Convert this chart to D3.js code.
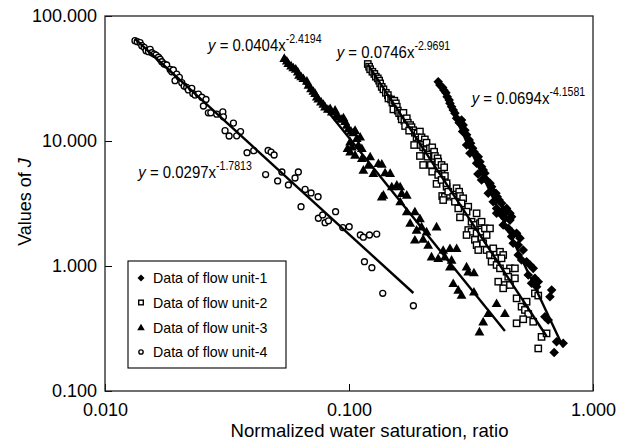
<!DOCTYPE html>
<html><head><meta charset="utf-8">
<script src="https://cdn.jsdelivr.net/npm/d3@7"></script>
<style>body{margin:0;background:#fff} svg{display:block;font-family:"Liberation Sans",Arial,sans-serif}</style>
</head><body><svg id="c" width="632" height="444"></svg>
<script>
// ---------- data ----------
const seriesNames = ["Data of flow unit-1","Data of flow unit-2","Data of flow unit-3","Data of flow unit-4"];
const xTicks = [0.01, 0.1, 1];
const yTicks = [0.1, 1, 10, 100];
const fitA = [0.0694, 0.0746, 0.0404, 0.0297];
const fitB = [-4.1581, -2.9691, -2.4194, -1.7813];

const unit1X = [0.2321,0.2359,0.2420,0.2450,0.2495,0.2526,0.2573,0.2593,0.2633,0.2674,0.2717,0.2761,
0.2892,0.2937,0.2985,0.3033,0.3107,0.3150,0.3212,0.3251,0.3312,0.3386,0.3442,0.3494,0.3548,0.3606,0.3574,0.3664,0.3783,0.3840,0.3900,0.4001,0.4050,0.4125,0.4220,0.4285,0.4425,0.4568,0.4638,
0.2828,0.2922,0.3033,0.3131,0.3334,0.3494,0.3376,0.3721,0.3900,0.4026,0.4026,0.4220,0.4425,
0.4355,0.4568,0.4285,0.4494,0.4638,0.4863,0.4638,0.5021,0.4709,0.4939,0.5176,0.4939,0.5097,0.5344,0.5518,0.5688,0.5428,0.578,0.5965,0.5872,0.5601,0.6769,0.6661,0.635,0.6553,0.7092,0.7547,0.6931];
const unit1Y = [29.8,28.0,26.8,25.5,24.3,22.6,21.3,20.0,18.8,17.7,16.7,15.2,
14.7,13.4,12.2,11.2,10.2,9.59,8.74,8.21,7.73,7.49,6.83,6.23,5.86,5.52,5.03,4.88,4.59,4.31,3.93,3.82,3.58,3.37,3.17,2.81,2.89,2.64,2.48,
14.0,11.9,9.29,7.98,6.63,4.88,5.45,3.82,3.27,2.89,2.64,2.56,2.72,
2.40,2.33,2.13,2.00,1.88,1.83,1.72,1.67,1.52,1.47,1.342,1.225,1.117,1.082,1.019,0.958,0.848,0.797,0.749,0.683,0.727,0.643,0.568,0.393,0.370,0.248,0.241,0.203];

const unit2X = [0.1194,0.1209,0.1221,0.1247,0.1270,0.1288,0.1312,0.1329,0.1342,0.1362,0.1384,0.1416,0.1443,0.1451,0.1488,0.1506,0.1534,0.1556,0.1570,0.1520,0.1585,0.1605,0.1635,0.1671,0.1645,0.1686,0.1725,0.1742,0.1698,0.1781,0.1804,0.1832,0.1764,0.1862,0.1910,0.1953,0.1892,0.1935,0.1983,0.2046,0.1849,0.1970,0.2013,0.2079,0.2060,0.2111,0.2146,0.2193,0.2233,0.2249,0.2307,0.2099,0.1953,0.2013,0.2166,0.2321,0.2395,0.2455,0.2193,0.2395,0.2472,0.2285,0.2512,0.2410,0.2472,0.2593,
0.2321,0.2395,0.2512,0.2551,0.2432,0.2674,0.2761,0.2828,0.2850,0.2937,0.2717,0.2892,0.3081,0.2804,0.3033,0.2850,0.3334,0.3179,0.3281,0.3442,0.3494,0.3081,0.3179,0.3334,0.3494,0.3606,0.3783,0.3033,0.3281,0.3494,0.3664,0.3334,0.3548,0.3386,0.3664,0.3783,0.3900,0.4157,0.4285,0.4220,0.3963,0.3840,0.4026,0.4157,0.4568,0.4786,0.4425,0.4494,0.4786,0.4090,0.4355,0.4285,0.4863,0.5097,0.526,0.5428,0.5344,0.4863,0.5176,0.5688,0.6153,0.6452,0.5965,0.578,0.5965,0.4568];
const unit2Y = [41.3,39.3,37.5,35.8,34.4,32.7,31.7,30.4,28.9,27.1,25.9,24.3,23.3,21.9,21.5,20.3,21.0,20.0,18.8,17.9,17.5,16.7,15.85,16.8,14.9,14.5,15.2,14.0,13.18,13.4,12.9,12.2,12.1,11.65,11.5,11.9,10.7,10.2,10.7,10.3,9.29,9.29,8.90,9.69,8.47,7.98,8.74,8.90,8.21,7.59,7.27,7.49,7.59,6.43,6.43,6.83,6.43,6.16,5.68,5.45,5.25,4.54,4.31,3.63,3.58,3.70,
5.35,4.88,4.59,3.93,3.37,3.58,4.19,3.93,3.63,3.48,3.27,3.17,2.98,2.89,2.72,2.45,2.64,2.26,2.13,2.20,2.26,1.94,1.88,1.83,1.88,2.00,2.00,1.77,1.62,1.67,1.77,1.47,1.52,1.342,1.342,1.225,1.384,1.30,1.225,1.152,1.152,1.082,1.019,0.958,0.958,0.958,0.900,0.821,0.797,0.749,0.705,0.663,0.551,0.473,0.445,0.413,0.518,0.348,0.375,0.358,0.271,0.289,0.219,0.604,0.580,0.705];

const unit3X = [0.0543,0.0556,0.0564,0.0579,0.0591,0.0605,0.0617,0.0624,0.0637,0.0650,0.0672,0.0682,0.0699,0.0714,0.0726,0.0738,0.0749,0.0768,0.0785,0.0798,0.0819,0.0837,0.0850,0.0877,0.0891,0.0905,0.0928,0.0949,0.0964,0.0979,0.0995,0.1020,0.1042,0.1059,0.1111,0.1076,0.1011,0.1028,0.0986,0.1093,0.1129,0.1011,0.1059,0.1129,0.1221,0.1145,0.1201,0.1259,0.1320,0.1363,0.1406,0.1475,0.1497,0.1570,0.1621,0.1645,0.1384,0.1362,0.1725,0.1621,0.1725,0.1862,0.1953,0.1781,0.1892,0.1983,0.1862,0.2013,0.2079,0.2285,0.2111,0.2179,0.2321,0.2432,0.2472,0.2593,0.2761,0.2593,0.2633,0.3033,0.3081,0.3251,0.2674,0.2804,0.2892,0.3251,0.3721,0.3548,0.4026,0.4355,0.3425];
const unit3Y = [45.9,43.7,41.8,40.0,38.6,37.7,35.8,33.7,32.7,31.7,30.2,28.0,26.3,25.1,24.1,22.6,21.7,20.6,19.7,18.8,18.0,18.2,17.1,17.7,16.2,15.6,15.0,15.4,14.4,13.4,12.6,12.0,11.7,12.2,10.8,10.5,9.87,9.00,8.74,9.29,8.74,8.21,7.73,7.27,7.49,5.86,6.43,5.52,6.63,6.55,5.58,5.52,4.31,4.45,4.31,3.82,3.70,3.58,3.70,3.27,2.72,2.72,2.40,2.20,1.94,2.06,1.62,1.64,1.88,2.06,1.47,1.186,1.152,1.342,1.186,1.384,1.384,0.987,1.117,0.987,0.900,0.884,0.727,0.643,0.586,0.622,0.418,0.358,0.503,0.418,0.298];

const unit4X = [0.01327,0.01356,0.01392,0.01415,0.01447,0.01473,0.01507,0.01531,0.01555,0.0159,0.01618,0.01656,0.01682,0.01709,0.01747,0.0179,0.01848,0.01878,0.01906,0.01936,0.01967,0.02017,0.02064,0.0211,0.02162,0.02196,0.02268,0.0229,0.02339,0.02414,0.02493,0.02531,0.02594,0.02652,0.02714,0.0287,0.0304,0.03057,0.03105,0.03226,0.0336,0.03465,0.03594,0.03821,0.04069,0.04661,0.04793,0.04933,0.04553,0.051,0.05309,0.05645,0.0601,0.0620,0.0636,0.0661,0.0699,0.0747,0.0749,0.0780,0.0798,0.0824,0.0881,0.0943,0.1002,0.1113,0.1145,0.1157,0.1213,0.1299,0.1241,0.1375,0.1836];
const unit4Y = [63.5,62.3,61.2,57.9,56.2,52.8,51.8,54.1,50.8,49.6,48.7,46.8,45.1,43.1,41.3,40.6,37.4,35.8,37.0,30.4,34.3,32.3,29.3,27.5,26.9,25.6,26.4,24.0,23.3,23.7,22.4,19.05,21.5,16.8,16.8,16.4,17.1,15.6,12.1,10.96,13.9,11.0,11.9,8.06,8.37,8.40,8.16,7.73,5.39,4.79,5.65,4.45,5.06,5.65,2.98,4.10,3.84,3.58,2.41,2.56,2.22,2.30,2.72,2.03,2.06,1.77,1.70,1.082,1.77,1.80,0.969,0.605,0.481];

// ---------- chart ----------
const svg = d3.select('#c');
const L = 105, R = 593, T = 16, B = 391;
const x = d3.scaleLog().domain([0.01, 1]).range([L, R]);
const y = d3.scaleLog().domain([0.1, 100]).range([B, T]);
const fmt = d3.format('.3f');
const FONT = '"Liberation Sans",Arial,sans-serif';

const series = [
  {x: unit1X, y: unit1Y, shape: 'diamond'},
  {x: unit2X, y: unit2Y, shape: 'square'},
  {x: unit3X, y: unit3Y, shape: 'triangle'},
  {x: unit4X, y: unit4Y, shape: 'circle'}
];

function drawMarker(g, shape, s) {
  if (shape === 'diamond') {
    g.append('path').attr('d', `M0,${-s}L${s},0L0,${s}L${-s},0Z`).attr('fill', '#000');
  } else if (shape === 'square') {
    const h = s * 0.66;
    g.append('rect').attr('x', -h).attr('y', -h).attr('width', 2*h).attr('height', 2*h)
      .attr('fill', '#fff').attr('stroke', '#000').attr('stroke-width', 1.4);
  } else if (shape === 'triangle') {
    g.append('path').attr('d', `M0,${-s}L${s*1.0},${s*0.75}L${-s*1.0},${s*0.75}Z`).attr('fill', '#000');
  } else {
    g.append('circle').attr('r', s * 0.62).attr('fill', '#fff').attr('stroke', '#000').attr('stroke-width', 1.35);
  }
}

// axes
const gx = svg.append('g').attr('transform', `translate(0,${B})`)
  .call(d3.axisBottom(x).tickValues(xTicks).tickFormat(fmt).tickSize(-7).tickPadding(12));
gx.attr('font-size', 18).attr('font-family', FONT);
gx.select('.domain').remove();
gx.selectAll('text').attr('fill', '#000');

const gy = svg.append('g').attr('transform', `translate(${L},0)`)
  .call(d3.axisLeft(y).tickValues(yTicks).tickFormat(fmt).tickSize(-7).tickPadding(8));
gy.attr('font-size', 18).attr('font-family', FONT);
gy.select('.domain').remove();
gy.selectAll('text').attr('fill', '#000');

// markers
const plot = svg.append('g');
series.forEach(s => {
  d3.zip(s.x, s.y).forEach(([vx, vy]) => {
    const g = plot.append('g').attr('transform', `translate(${x(vx)},${y(vy)})`);
    drawMarker(g, s.shape, s.shape === 'triangle' ? 4.9 : (s.shape === 'diamond' ? 4.8 : 4.8));
  });
});

// trend lines
series.forEach((s, i) => {
  const [x0, x1] = d3.extent(s.x);
  const pts = [x0, x1].map(v => [x(v), y(fitA[i] * Math.pow(v, fitB[i]))]);
  svg.append('path').attr('d', d3.line()(pts)).attr('stroke', '#000').attr('stroke-width', 2.4).attr('fill', 'none');
});

// frame
svg.append('rect').attr('x', L).attr('y', T).attr('width', R - L).attr('height', B - T)
  .attr('fill', 'none').attr('stroke', '#222').attr('stroke-width', 1.3);

// equations
const eqPos = [[471.7, 104], [336.7, 57.5], [208, 50.5], [138.3, 178]];
fitA.forEach((a, i) => {
  const g = svg.append('g').attr('transform', `translate(${eqPos[i][0]},${eqPos[i][1]}) scale(0.88,1)`);
  const t = g.append('text').attr('font-size', 17).attr('font-family', FONT).attr('fill', '#000');
  t.append('tspan').attr('font-style', 'italic').text('y');
  t.append('tspan').text(` = ${a.toFixed(4)}x`);
  t.append('tspan').attr('font-size', 12).attr('dy', -8).text(fitB[i].toFixed(4));
});

// legend
const lg = svg.append('g');
lg.append('rect').attr('x', 128).attr('y', 261).attr('width', 158).attr('height', 107)
  .attr('fill', '#fff').attr('stroke', '#000').attr('stroke-width', 1.1);
const legY = [278, 302.5, 327.5, 352];
series.forEach((s, i) => {
  const g = lg.append('g').attr('transform', `translate(141,${legY[i]})`);
  drawMarker(g, s.shape, s.shape === 'triangle' ? 3.8 : 3.5);
  lg.append('text').attr('x', 153).attr('y', legY[i] + 5).attr('font-size', 14.2)
    .attr('font-family', FONT).attr('fill', '#000').text(seriesNames[i]);
});

// axis titles
svg.append('text').attr('x', 369.5).attr('y', 437).attr('text-anchor', 'middle')
  .attr('font-size', 18.6).attr('font-family', FONT).attr('fill', '#000')
  .text('Normalized water saturation, ratio');
const yt = svg.append('text').attr('transform', 'translate(31,202) rotate(-90)')
  .attr('text-anchor', 'middle').attr('font-size', 18).attr('font-family', FONT).attr('fill', '#000');
yt.append('tspan').text('Values of ');
yt.append('tspan').attr('font-style', 'italic').text('J');
</script>
</body></html>
